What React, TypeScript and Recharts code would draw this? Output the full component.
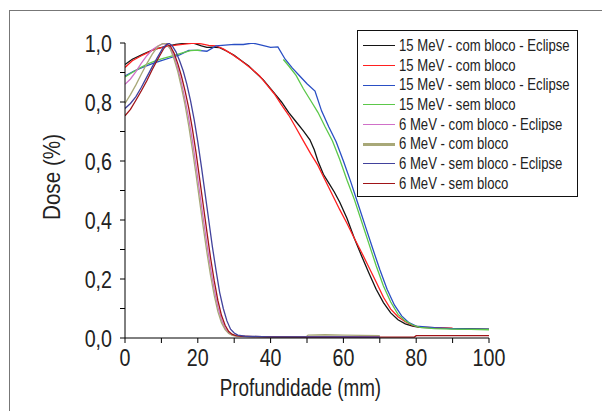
import { Line, LineChart, XAxis, YAxis } from "recharts";

// depth (mm) / relative dose pairs
const ecl15ComX = [0, 2, 5, 8, 11, 14, 17, 19, 21, 22.5, 24, 26, 28, 30, 32, 34, 36, 38, 40, 41.7, 43, 45, 47, 49, 50.8, 52, 53, 54.5, 56, 57.5, 59, 61, 63, 65, 67, 69, 71, 73, 75, 77, 79, 81, 85, 90, 95, 100];
const ecl15ComY = [0.927, 0.945, 0.962, 0.978, 0.988, 0.995, 1.0, 0.999, 0.99, 0.985, 0.986, 0.984, 0.972, 0.958, 0.94, 0.922, 0.898, 0.875, 0.845, 0.82, 0.8, 0.764, 0.733, 0.702, 0.672, 0.638, 0.6, 0.555, 0.525, 0.495, 0.46, 0.405, 0.338, 0.278, 0.22, 0.165, 0.12, 0.085, 0.062, 0.048, 0.04, 0.036, 0.034, 0.032, 0.031, 0.03];

const med15ComX = [0, 2, 5, 8, 11, 14, 17, 19, 21, 23, 25, 27, 29, 31, 33, 35, 37, 39, 41, 43, 45, 47, 49, 51, 53, 55, 57, 59, 61, 63, 65, 67, 69, 71, 73, 75, 77, 79, 81, 85, 90];
const med15ComY = [0.917, 0.94, 0.96, 0.978, 0.988, 0.993, 0.997, 1.0, 0.997, 0.992, 0.99, 0.98, 0.965, 0.948, 0.93, 0.91, 0.888, 0.858, 0.828, 0.79, 0.755, 0.712, 0.668, 0.625, 0.585, 0.535, 0.485, 0.435, 0.388, 0.338, 0.29, 0.24, 0.19, 0.138, 0.098, 0.072, 0.055, 0.043, 0.037, 0.035, 0.033];

const ecl15SemX = [0, 2.5, 5, 7.5, 10, 12.5, 15, 17.5, 20, 22.5, 25, 27.5, 30, 32.5, 35, 37.5, 40, 42, 44, 46, 48, 50, 52.2, 54, 56, 58, 60, 62, 64, 66, 68, 70, 72, 74, 76, 78, 80, 85, 90, 95, 100];
const ecl15SemY = [0.888, 0.905, 0.918, 0.93, 0.94, 0.95, 0.96, 0.975, 0.975, 0.972, 0.99, 0.993, 0.995, 0.995, 1.0, 0.993, 0.985, 0.987, 0.945, 0.915, 0.888, 0.862, 0.837, 0.77, 0.715, 0.665, 0.6, 0.53, 0.455, 0.38, 0.305, 0.232, 0.165, 0.112, 0.075, 0.052, 0.04, 0.035, 0.032, 0.03, 0.029];

// measured 15 MeV open field: no points plotted between ~21 and ~43 mm
const med15SemX = [0, 2, 4, 6, 8, 10, 12, 14, 16, 18, 20, 21, 22, 43.5, 45, 47, 49, 51, 53, 55, 57, 59, 61, 63, 65, 67, 69, 71, 73, 75, 77, 79, 81, 85, 90, 95, 100];
const med15SemY = [0.885, 0.9, 0.915, 0.928, 0.938, 0.946, 0.953, 0.96, 0.967, 0.974, 0.976, 0.975, null, 0.944, 0.922, 0.89, 0.845, 0.805, 0.765, 0.715, 0.668, 0.605, 0.535, 0.47, 0.395, 0.32, 0.245, 0.176, 0.122, 0.08, 0.058, 0.044, 0.036, 0.032, 0.03, 0.029, 0.028];

const ecl6ComX = [0, 1.5, 3, 4.5, 6, 7.5, 9, 10.5, 11.5, 12.5, 13.5, 14.5, 15.5, 16.5, 17.5, 18.5, 19.5, 20.5, 21.5, 22.5, 23.5, 24.5, 25.5, 26.5, 27.5, 28.5, 29.5, 31, 40, 55, 70];
const ecl6ComY = [0.86, 0.878, 0.903, 0.932, 0.957, 0.977, 0.99, 0.998, 0.995, 0.98, 0.955, 0.915, 0.865, 0.808, 0.745, 0.67, 0.585, 0.495, 0.405, 0.318, 0.237, 0.165, 0.106, 0.062, 0.033, 0.017, 0.01, 0.006, 0.004, 0.004, 0.004];

const med6ComX = [0, 1.5, 3, 4.5, 6, 7.5, 9, 10.5, 11.5, 12.5, 13.5, 14.5, 15.5, 16.5, 17.5, 18.5, 19.5, 20.5, 21.5, 22.5, 23.5, 24.5, 25.5, 26.5, 27.5, 28.5, 29.5, 31, 40, 49.8, 50.3, 55, 60, 65, 70];
const med6ComY = [0.795, 0.825, 0.858, 0.895, 0.93, 0.962, 0.988, 0.999, 0.996, 0.978, 0.945, 0.903, 0.85, 0.79, 0.72, 0.64, 0.555, 0.465, 0.375, 0.29, 0.212, 0.145, 0.09, 0.052, 0.028, 0.015, 0.009, 0.006, 0.004, 0.004, 0.01, 0.011, 0.01, 0.009, 0.008];

const ecl6SemX = [0, 1.5, 3, 4.5, 6, 7.5, 9, 10.5, 12, 13, 14, 15, 16, 17, 18, 19, 20, 21, 22, 23, 24, 25, 26, 27, 28, 29, 30, 31, 33, 40, 50, 60, 70];
const ecl6SemY = [0.778, 0.795, 0.818, 0.85, 0.885, 0.92, 0.953, 0.985, 1.0, 0.99, 0.97, 0.94, 0.905, 0.86, 0.805, 0.74, 0.665, 0.58, 0.49, 0.4, 0.31, 0.23, 0.155, 0.1, 0.058, 0.03, 0.017, 0.01, 0.006, 0.004, 0.004, 0.004, 0.003];

const med6SemX = [0, 1.5, 3, 4.5, 6, 7.5, 9, 10.5, 11.5, 12.5, 13.5, 14.5, 15.5, 16.5, 17.5, 18.5, 19.5, 20.5, 21.5, 22.5, 23.5, 24.5, 25.5, 26.5, 27.5, 28.5, 29.5, 30.5, 32, 35, 40, 50, 60, 70, 79.5, 80, 90, 100];
const med6SemY = [0.753, 0.775, 0.806, 0.838, 0.872, 0.91, 0.945, 0.978, 0.996, 0.988, 0.965, 0.93, 0.888, 0.838, 0.78, 0.71, 0.63, 0.54, 0.45, 0.36, 0.272, 0.195, 0.128, 0.077, 0.043, 0.022, 0.012, 0.008, 0.006, 0.005, 0.004, 0.003, 0.003, 0.003, 0.003, 0.008, 0.008, 0.008];

const xTicks = [0, 10, 20, 30, 40, 50, 60, 70, 80, 90, 100];
const yTicks = [0, 0.1, 0.2, 0.3, 0.4, 0.5, 0.6, 0.7, 0.8, 0.9, 1.0];

// no narrow font installed: Liberation Sans squeezed horizontally stands in for Arial Narrow
const FONT = '"Liberation Sans", Arial, sans-serif';
const NARROW = 0.82;

const toPts = (xs: number[], ys: (number | null)[]) => xs.map((x, i) => ({ x, y: ys[i] }));

const SERIES = [
  { name: "15 MeV - com bloco - Eclipse", color: "#141414", data: toPts(ecl15ComX, ecl15ComY) },
  { name: "15 MeV - com bloco", color: "#ff2020", data: toPts(med15ComX, med15ComY) },
  { name: "15 MeV - sem bloco - Eclipse", color: "#2a4fc4", data: toPts(ecl15SemX, ecl15SemY) },
  { name: "15 MeV - sem bloco", color: "#5cc84a", data: toPts(med15SemX, med15SemY) },
  { name: "6 MeV - com bloco - Eclipse", color: "#d070c8", data: toPts(ecl6ComX, ecl6ComY) },
  { name: "6 MeV - com bloco", color: "#a8a878", data: toPts(med6ComX, med6ComY) },
  { name: "6 MeV - sem bloco - Eclipse", color: "#42429c", data: toPts(ecl6SemX, ecl6SemY) },
  { name: "6 MeV - sem bloco", color: "#a01418", data: toPts(med6SemX, med6SemY) },
];
// paint order in the plot: the darker 6 MeV curves sit on top of the fall-off bundle
const DRAW_ORDER = [0, 1, 2, 3, 4, 5, 7, 6];

const fmtY = (v: number) => (Math.round(v * 10) % 2 === 0 ? v.toFixed(1).replace(".", ",") : "");
const fmtX = (v: number) => (v % 20 === 0 ? String(v) : "");

function XTick({ x, y, payload }: any) {
  const label = fmtX(payload.value);
  if (!label) return null;
  return (
    <g transform={`translate(${x},${y}) scale(${NARROW},1)`}>
      <text x={0} y={0} dy="0.71em" textAnchor="middle" fill="#222" fontSize={24} fontFamily={FONT}>
        {label}
      </text>
    </g>
  );
}

function YTick({ x, y, payload }: any) {
  const label = fmtY(payload.value);
  if (!label) return null;
  return (
    <g transform={`translate(${x},${y}) scale(${NARROW},1)`}>
      <text x={0} y={0} dy="0.355em" textAnchor="end" fill="#222" fontSize={24} fontFamily={FONT}>
        {label}
      </text>
    </g>
  );
}

export default function App() {
  return (
    <div
      style={{
        position: "absolute",
        left: 0,
        top: 0,
        width: 602,
        height: 411,
        background: "#fff",
        overflow: "hidden",
        fontFamily: FONT,
      }}
    >
      {/* grey figure frame: only the left and top edges fall inside the crop */}
      <div
        style={{
          position: "absolute",
          left: 9,
          top: 10,
          width: 620,
          height: 420,
          borderLeft: "1px solid #777",
          borderTop: "1px solid #777",
        }}
      />
      <LineChart width={602} height={411} margin={{ top: 43, right: 113, bottom: 43, left: 65 }}>
        <XAxis
          type="number"
          dataKey="x"
          domain={[0, 100]}
          ticks={xTicks}
          interval={0}
          height={30}
          tickSize={5}
          tickMargin={6}
          axisLine={{ stroke: "#000" }}
          tickLine={{ stroke: "#000" }}
          tick={<XTick />}
          allowDataOverflow
        />
        <YAxis
          type="number"
          domain={[0, 1]}
          ticks={yTicks}
          interval={0}
          width={60}
          tickSize={5}
          tickMargin={8}
          axisLine={{ stroke: "#000" }}
          tickLine={{ stroke: "#000" }}
          tick={<YTick />}
          allowDataOverflow
        />
        {DRAW_ORDER.map((i) => {
          const s = SERIES[i];
          return (
            <Line
              key={s.name}
              data={s.data}
              dataKey="y"
              name={s.name}
              type="linear"
              stroke={s.color}
              strokeWidth={1.3}
              dot={false}
              activeDot={false}
              connectNulls={false}
              isAnimationActive={false}
            />
          );
        })}
      </LineChart>

      <div
        style={{
          position: "absolute",
          left: 150,
          top: 377,
          width: 300,
          textAlign: "center",
          fontSize: 23,
          lineHeight: "23px",
          color: "#222",
          whiteSpace: "nowrap",
        }}
      >
        <span style={{ display: "inline-block", transform: `scaleX(${NARROW})` }}>Profundidade (mm)</span>
      </div>
      <div
        style={{
          position: "absolute",
          left: -8,
          top: 164,
          width: 120,
          height: 26,
          textAlign: "center",
          fontSize: 24,
          lineHeight: "26px",
          color: "#222",
          whiteSpace: "nowrap",
          transform: "rotate(-90deg) scaleX(0.86)",
        }}
      >
        Dose (%)
      </div>

      <div
        style={{
          position: "absolute",
          left: 357,
          top: 30,
          width: 219,
          height: 160,
          border: "1px solid #111",
          background: "#fff",
          paddingTop: 5,
          boxSizing: "content-box",
        }}
      >
        {SERIES.map((s, i) => (
          <div key={s.name} style={{ display: "flex", alignItems: "center", height: 19.7 }}>
            <div
              style={{
                marginLeft: 5,
                width: 32,
                flex: "none",
                height: 0,
                borderTop: `${i === 5 ? 3 : 1.5}px solid ${s.color}`,
              }}
            />
            <span
              style={{
                marginLeft: 4,
                fontSize: 16,
                color: "#222",
                whiteSpace: "nowrap",
                display: "inline-block",
                transform: `scaleX(${NARROW})`,
                transformOrigin: "left center",
              }}
            >
              {s.name}
            </span>
          </div>
        ))}
      </div>
    </div>
  );
}
